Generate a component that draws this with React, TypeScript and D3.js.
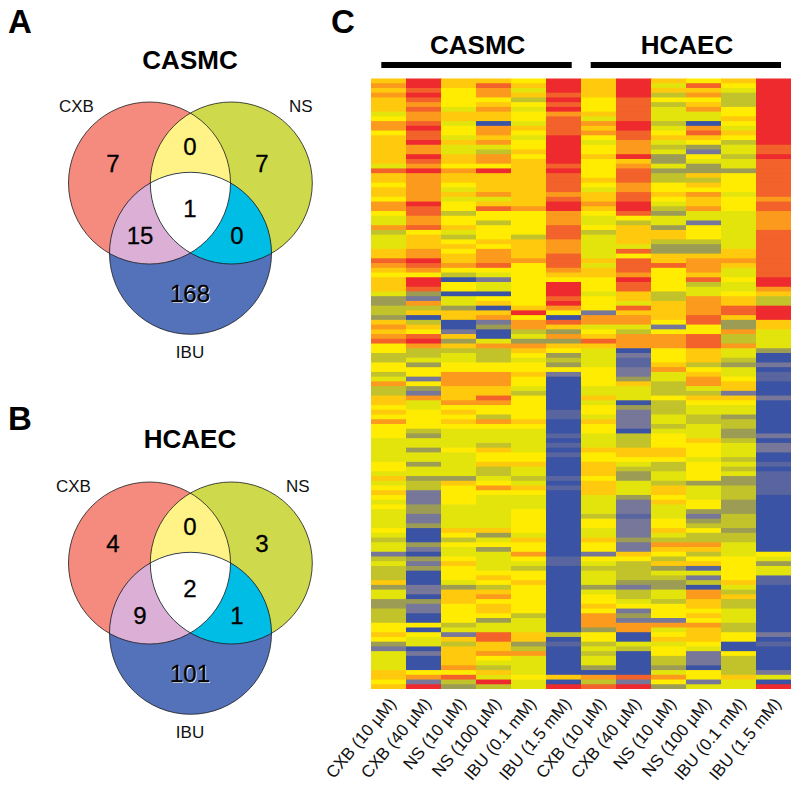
import React from "react";
import * as d3 from "d3";

// Heat-map levels: 0 blue ... 5 yellow ... 9 red
const levelStops = [0, 1, 2, 3, 4, 5, 6, 7, 8, 9];
const levelColors = ["#3b53a4", "#77779a", "#9c9c55", "#c2c22c", "#e4e410", "#ffec00", "#ffc90a", "#fb9a1c", "#f2622a", "#ee2a2e"];

const col1 = [6,7,6,7,6,6,6,4,5,7, 7,5,6,6,6,6,6,6,4,8, 6,6,5,6,6,5,7,7,5,4, 4,7,3,4,4,4,6,6,8,7, 6,5,6,6,6,4,2,2,3,3, 2,6,7,6,7,8,5,5,3,3, 5,5,3,4,7,3,3,6,6,5, 6,5,7,5,5,5,4,4,4,4, 4,5,5,4,6,4,5,6,5,4, 5,4,4,4,4,5,4,3,4,4, 1,3,4,3,3,3,6,2,4,4, 2,2,3,3,3,5,5,6,5,2, 1,4,4,4,4,6,6,5,6];
const col2 = [9,9,8,9,8,7,8,7,7,8, 9,8,8,9,7,7,9,8,7,9, 7,7,7,7,7,7,9,8,8,7, 7,8,5,6,6,6,7,7,9,8, 7,5,9,9,8,2,1,7,3,6, 0,3,6,5,8,9,7,3,3,4, 2,5,5,1,5,2,1,7,4,4, 5,5,5,5,3,2,4,4,2,4, 4,2,4,4,2,3,3,1,1,1, 2,2,1,1,2,0,0,0,2,1, 0,2,1,2,0,0,0,1,1,0, 2,1,1,0,0,5,0,5,4,4, 0,1,0,0,0,5,7,1,9];
const col3 = [6,6,5,5,5,5,4,6,6,4, 5,5,4,6,4,4,6,6,5,7, 6,6,5,4,6,4,5,5,3,5, 5,6,4,3,5,6,5,6,6,7, 5,3,0,5,5,0,4,4,2,6, 6,0,0,1,6,2,6,3,4,4, 5,5,7,7,7,6,6,6,7,5, 6,5,6,5,4,4,4,4,5,4, 4,4,4,4,2,6,5,5,5,5, 4,4,4,4,4,6,5,3,5,4, 4,5,6,5,5,5,4,2,6,6, 6,5,5,5,5,3,4,1,6,3, 6,6,6,6,7,5,8,3,2];
const col4 = [6,8,7,7,5,6,7,6,6,0, 7,7,6,7,4,3,7,7,5,9, 6,6,6,6,7,4,6,8,5,5, 3,5,5,5,6,5,7,7,7,8, 5,4,1,4,4,0,5,6,0,6, 7,1,2,0,0,4,7,3,3,3, 5,5,7,7,7,6,6,8,7,5, 5,3,7,5,4,4,4,3,6,5, 5,6,3,3,4,5,7,5,4,4, 4,4,4,4,4,6,2,4,5,2, 4,4,4,4,5,6,5,3,6,7, 5,6,6,5,2,4,4,8,8,6, 6,7,5,4,3,6,4,9,3];
const col5 = [5,6,4,6,3,5,4,5,5,4, 6,5,4,5,5,6,5,6,6,6, 6,6,6,6,6,6,6,7,5,5, 5,5,5,3,6,6,6,6,7,5, 5,5,5,5,5,5,5,5,6,9, 5,7,7,3,4,2,7,6,5,4, 5,5,6,5,5,4,3,5,5,5, 5,5,6,5,4,4,4,4,4,5, 5,6,4,4,3,4,6,5,4,4, 4,5,5,5,5,5,4,6,5,5, 7,5,4,3,5,5,6,5,5,5, 5,5,5,3,4,4,4,6,6,2, 3,7,4,4,4,4,5,4,4];
const col6 = [9,9,9,8,9,8,9,7,8,8, 8,8,9,9,9,9,9,9,8,9, 8,8,8,8,7,8,9,9,7,7, 7,8,8,8,7,7,7,8,8,8, 7,6,5,9,9,9,8,9,7,5, 0,8,6,2,7,2,6,5,2,3, 2,5,1,0,0,0,0,0,0,0, .5,.5,0,0,0,.5,0,.5,0,.5, 0,0,0,0,.5,0,.5,0,0,0, 0,0,0,0,0,0,0,0,0,0, 0,.5,.5,0,0,0,0,0,0,0, 0,0,0,0,0,0,0,3,0,.5, 0,0,0,0,0,0,6,0,9];
const col7 = [6,6,6,6,5,5,5,6,4,7, 6,7,5,4,5,5,6,5,5,5, 5,6,5,4,6,6,7,6,5,4, 4,5,3,4,4,4,4,4,6,4, 6,6,5,5,5,4,5,5,5,1, 7,7,4,5,6,8,6,4,4,4, 4,5,5,5,5,4,4,6,4,5, 5,4,6,5,5,4,4,4,6,5, 5,6,6,6,5,6,6,6,4,4, 4,4,3,5,5,4,4,6,5,5, 1,5,4,3,4,4,4,2,4,5, 5,6,5,7,7,7,2,5,5,3, 4,3,4,4,2,0,7,3,8];
const col8 = [9,9,9,9,8,8,8,8,8,9, 9,8,8,7,7,7,9,6,7,8, 8,8,7,7,8,8,9,9,8,5, 3,6,6,6,6,4,8,5,8,8, 8,7,9,8,8,6,6,4,8,6, 7,7,4,3,7,7,7,0,1,.5, .5,1,1,2,6,4,4,4,0,2, 1,1,1,1,0,3,3,3,6,6, 5,4,3,2,2,4,4,4,2,1, 1,1,.5,1,1,1,1,2,1,1, 6,5,3,3,3,3,2,1,3,3, 4,5,1,2,1,7,7,0,0,4, 3,0,0,0,0,0,8,1,9];
const col9 = [6,4,6,3,5,3,4,4,4,3, 4,5,6,4,3,4,2,2,4,2, 3,3,5,5,6,5,4,3,2,4, 4,2,6,6,3,2,2,6,6,8, 5,5,5,5,5,3,3,6,6,6, 6,5,1,5,7,7,7,5,5,5, 6,7,4,4,3,3,3,5,3,3, 3,4,4,3,4,5,5,5,6,6, 5,3,3,4,4,3,6,6,5,6, 4,4,4,5,5,6,4,3,7,6, 5,3,6,2,4,3,2,2,4,4, 3,5,5,5,1,7,4,5,6,4, 5,5,3,3,2,4,7,5,2];
const col10 = [5,8,6,7,5,6,7,4,4,0, 7,8,6,5,2,1,5,4,2,2, 6,3,6,5,7,6,6,7,4,4, 1,5,5,5,3,2,2,6,7,7, 7,6,8,3,4,4,7,7,7,7, 8,8,5,5,8,8,8,6,6,6, 3,5,6,7,7,4,3,6,5,4, 4,3,3,4,4,4,6,5,5,5, 4,5,5,5,5,2,4,4,4,5, 5,2,1,2,3,5,3,3,7,6, 3,5,6,.5,4,1,3,0,7,7, 6,6,5,6,5,7,6,6,6,5, 4,1,1,1,0,5,5,1,4];
const col11 = [6,5,4,3,3,3,5,5,6,5, 4,6,5,3,4,4,3,4,4,2, 5,5,5,5,4,5,5,5,4,4, 4,4,4,4,4,4,6,6,7,6, 4,4,5,4,4,5,6,6,8,8, 6,2,2,7,3,3,7,4,4,3, 2,4,4,5,6,6,1,6,5,4, 4,2,3,3,2,2,3,4,4,4, 3,4,3,4,2,2,3,3,3,2, 2,2,3,3,3,2,3,3,4,4, 4,5,5,5,5,5,6,4,3,6, 3,3,4,4,4,3,3,5,5,0, 0,5,3,3,3,3,6,4,4];
const col12 = [9,9,9,9,9,9,9,9,9,9, 9,9,9,9,8,8,9,8,8,8, 8,8,8,8,8,7,8,8,7,7, 7,7,8,8,8,8,8,8,8,8, 8,8,9,9,7,6,3,3,9,9, 9,6,6,4,4,4,4,2,0,0, 1,0,.5,.5,0,0,0,1,0,0, 0,0,0,0,0,1,0,1,1,0, 0,.5,0,.5,.5,.5,.5,.5,0,0, 0,0,0,0,0,0,0,0,0,0, 5,4,2,4,4,.5,.5,0,0,0, 0,0,0,0,0,0,0,1,0,.5, 0,0,0,0,0,1,4,0,9];

const columns = [col1, col2, col3, col4, col5, col6, col7, col8, col9, col10, col11, col12];
const columnLabels = ["CXB (10 µM)", "CXB (40 µM)", "NS (10 µM)", "NS (100 µM)", "IBU (0.1 mM)", "IBU (1.5 mM)", "CXB (10 µM)", "CXB (40 µM)", "NS (10 µM)", "NS (100 µM)", "IBU (0.1 mM)", "IBU (1.5 mM)"];

// Venn counts: CXB, NS, IBU, CXB&NS, CXB&IBU, NS&IBU, all
const casmcCounts = [7, 7, 168, 0, 15, 0, 1];
const hcaecCounts = [4, 3, 101, 0, 9, 1, 2];

const FONT = "'Liberation Sans', Arial, sans-serif";
const nRows = col1.length;

const color = d3.scaleLinear<string>().domain(levelStops).range(levelColors).clamp(true);
const xBand = d3.scaleBand<number>().domain(d3.range(6)).range([0, 210]);
const rowBand = d3.scaleBand<number>().domain(d3.range(nRows)).range([78.5, 689]);

function colX(i: number) {
  const g = i < 6 ? 371 : 581;
  return g + (xBand(i % 6) as number);
}

const R = 81;
const circles = { cxb: [149.5, 183], ns: [231.3, 183], ibu: [190.5, 253.3] };

function Venn({ id, dy, title, counts, letter, labelShift, letterY, titleY }: any) {
  const c = (k: keyof typeof circles) => ({ cx: circles[k][0], cy: circles[k][1] + dy, r: R });
  const num = { fontFamily: FONT, fontSize: 24, textAnchor: "middle" as const, fill: "#000", stroke: "#000", strokeWidth: 0.3 };
  const small = { fontFamily: FONT, fontSize: 17, fill: "#111" };
  return (
    <g>
      <defs>
        <clipPath id={id + "a"}><circle {...c("cxb")} /></clipPath>
        <clipPath id={id + "b"}><circle {...c("ns")} /></clipPath>
        <clipPath id={id + "ab"} clipPath={`url(#${id}a)`}><circle {...c("ns")} /></clipPath>
      </defs>
      <text x={8} y={letterY} fontFamily={FONT} fontWeight="bold" fontSize={33} fill="#000">{letter}</text>
      <text x={190} y={titleY} fontFamily={FONT} fontWeight="bold" fontSize={26} textAnchor="middle" fill="#000">{title}</text>
      <circle {...c("cxb")} fill="#f58b7e" />
      <circle {...c("ns")} fill="#cfd94c" />
      <circle {...c("ns")} fill="#fff388" clipPath={`url(#${id}a)`} />
      <circle {...c("ibu")} fill="#5472b9" />
      <circle {...c("ibu")} fill="#dcb0d6" clipPath={`url(#${id}a)`} />
      <circle {...c("ibu")} fill="#00bde6" clipPath={`url(#${id}b)`} />
      <circle {...c("ibu")} fill="#ffffff" clipPath={`url(#${id}ab)`} />
      {(["cxb", "ns", "ibu"] as const).map((k) => (
        <circle key={k} {...c(k)} fill="none" stroke="#1a1a1a" strokeWidth={0.8} />
      ))}
      <text x={59 + labelShift} y={111.7 + dy} {...small}>CXB</text>
      <text x={289 + labelShift} y={111.7 + dy} {...small}>NS</text>
      <text x={190} y={358 + dy} {...small} textAnchor="middle">IBU</text>
      <text x={113} y={172 + dy} {...num}>{counts[0]}</text>
      <text x={262} y={172 + dy} {...num}>{counts[1]}</text>
      <text x={190.8} y={302.5 + dy} {...num} fill="#fff" stroke="none">{counts[2]}</text>
      <text x={190} y={301.7 + dy} {...num}>{counts[2]}</text>
      <text x={190} y={155 + dy} {...num}>{counts[3]}</text>
      <text x={140} y={244 + dy} {...num}>{counts[4]}</text>
      <text x={237} y={244 + dy} {...num}>{counts[5]}</text>
      <text x={190} y={216.7 + dy} {...num}>{counts[6]}</text>
    </g>
  );
}

export default function App() {
  return (
    <svg width={800} height={797} style={{ position: "absolute", left: 0, top: 0, background: "#fff" }}>
      <defs>
        <filter id="soft" x="-2%" y="-2%" width="104%" height="104%">
          <feGaussianBlur stdDeviation="0.3 0.7" />
        </filter>
      </defs>
      <Venn id="v1" dy={0} title="CASMC" titleY={69.3} counts={casmcCounts} letter="A" letterY={33} labelShift={0} />
      <Venn id="v2" dy={380} title="HCAEC" titleY={448.3} counts={hcaecCounts} letter="B" letterY={430} labelShift={-3} />

      <text x={331} y={33} fontFamily={FONT} fontWeight="bold" fontSize={33} fill="#000">C</text>
      <text x={477.7} y={54.3} fontFamily={FONT} fontWeight="bold" fontSize={26} textAnchor="middle" fill="#000">CASMC</text>
      <text x={687} y={54.3} fontFamily={FONT} fontWeight="bold" fontSize={26} textAnchor="middle" fill="#000">HCAEC</text>
      <rect x={381.3} y={62} width={190.4} height={6} fill="#000" />
      <rect x={590.7} y={62} width={190.3} height={6} fill="#000" />

      <g filter="url(#soft)">
        {columns.map((col, i) =>
          col.map((v, r) => (
            <rect
              key={i + "-" + r}
              x={colX(i)}
              y={rowBand(r)}
              width={xBand.bandwidth() + (i === 5 || i === 11 ? 0 : 1)}
              height={rowBand.bandwidth() + (r === nRows - 1 ? 0 : 1)}
              fill={color(v)}
            />
          ))
        )}
      </g>

      {columnLabels.map((t, i) => {
        const x = colX(i) + 26;
        return (
          <text
            key={i}
            transform={`translate(${x},704) rotate(-50)`}
            textAnchor="end"
            fontFamily={FONT}
            fontSize={17}
            fill="#111"
          >
            {t}
          </text>
        );
      })}
    </svg>
  );
}
